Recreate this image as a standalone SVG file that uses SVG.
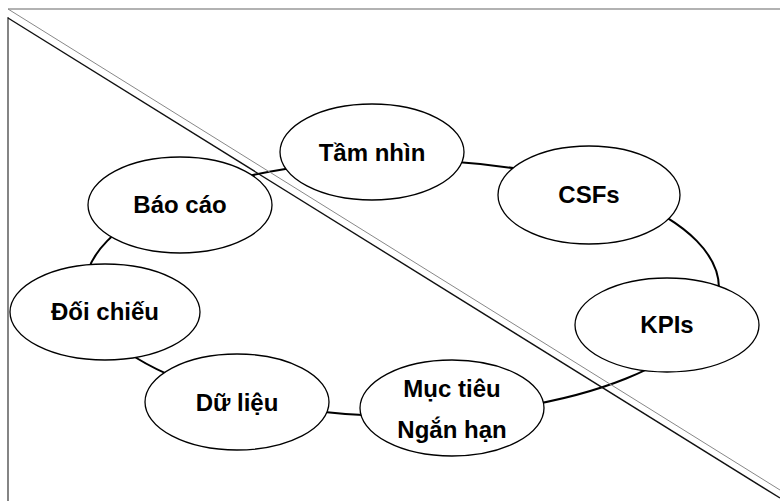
<svg xmlns="http://www.w3.org/2000/svg" width="780" height="501" viewBox="0 0 780 501">
<style>
.node ellipse{fill:#fff;stroke:#000;stroke-width:1.3}
.node text{font-family:"Liberation Sans",Arial,sans-serif;font-weight:bold;font-size:24px;text-anchor:middle;fill:#000}
.ring{fill:none;stroke:#000;stroke-width:2}
</style>
<rect width="780" height="501" fill="#fff"/>
<g id="frame">
<line x1="8" y1="9" x2="780" y2="9" stroke="#999" stroke-width="1.3"/>
<line x1="8" y1="17" x2="8" y2="501" stroke="#666" stroke-width="1.6"/>
</g>
<g id="connectors">
<ellipse class="ring" cx="402" cy="288" rx="317" ry="128"/>
</g>
<g id="diagonal">
<line x1="8" y1="9" x2="780" y2="490" stroke="#888" stroke-width="1"/>
<line x1="8" y1="18" x2="780" y2="498" stroke="#111" stroke-width="1.4"/>
</g>
<g id="node-tam-nhin" class="node"><ellipse cx="372" cy="152" rx="92" ry="48"/><text x="372" y="161">Tầm nhìn</text></g>
<g id="node-csfs" class="node"><ellipse cx="589" cy="195" rx="91" ry="49"/><text x="589" y="203">CSFs</text></g>
<g id="node-kpis" class="node"><ellipse cx="667" cy="325" rx="92" ry="47"/><text x="667" y="333">KPIs</text></g>
<g id="node-muc-tieu" class="node"><ellipse cx="452" cy="408" rx="92" ry="48"/><text x="452" y="397">Mục tiêu</text><text x="452" y="438">Ngắn hạn</text></g>
<g id="node-du-lieu" class="node"><ellipse cx="237" cy="402" rx="92" ry="48"/><text x="237" y="411">Dữ liệu</text></g>
<g id="node-doi-chieu" class="node"><ellipse cx="105" cy="312" rx="95" ry="48"/><text x="105" y="320">Đối chiếu</text></g>
<g id="node-bao-cao" class="node"><ellipse cx="180" cy="205" rx="92" ry="48"/><text x="180" y="213">Báo cáo</text></g>
</svg>
